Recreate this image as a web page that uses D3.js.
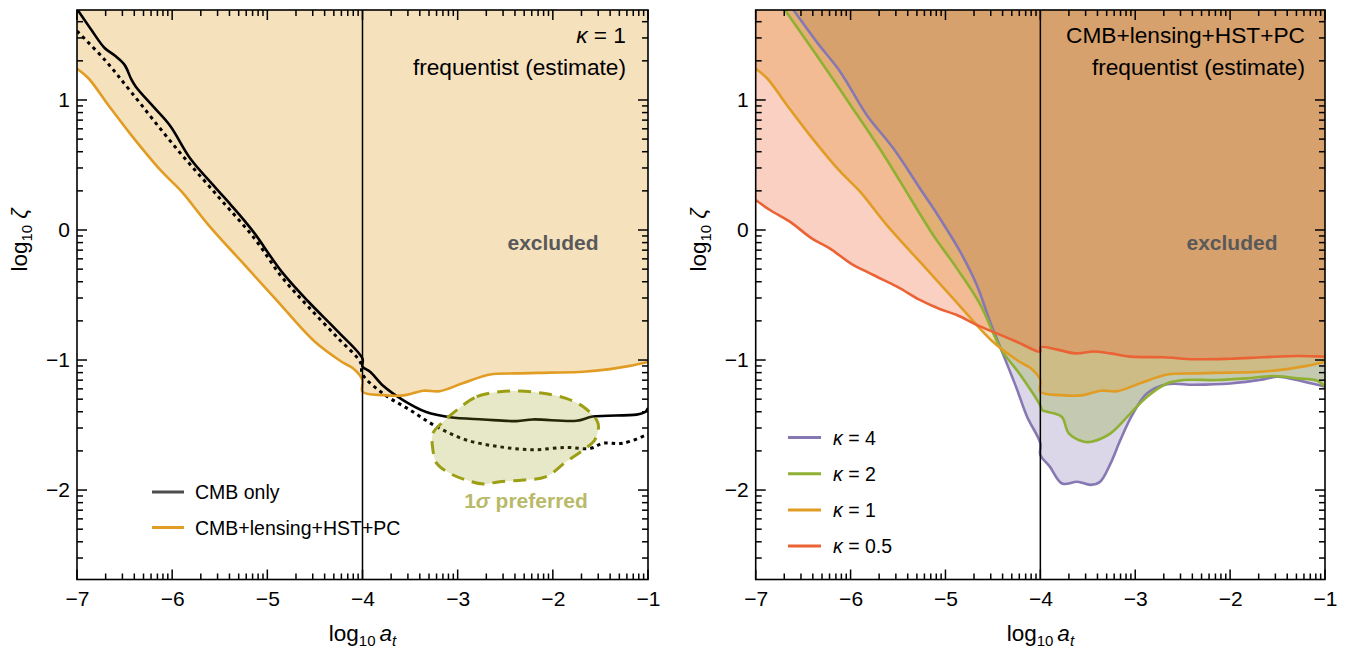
<!DOCTYPE html>
<html>
<head>
<meta charset="utf-8">
<script src="https://cdn.jsdelivr.net/npm/d3@7"></script>
<style>
  body { margin: 0; background: #fff; }
  svg { font-family: "Liberation Sans", Arial, sans-serif; display: block; }
</style>
</head>
<body>
<div id="chart"></div>
<script>
// ---- data: [log10 a_t, log10 zeta] pairs ----
const cmbOnly = [[-7.00, 1.70], [-6.85, 1.54], [-6.71, 1.40], [-6.60, 1.34], [-6.50, 1.27], [-6.43, 1.16],
  [-6.38, 1.10], [-6.20, 0.95], [-6.02, 0.80], [-5.81, 0.55], [-5.55, 0.33], [-5.38, 0.19], [-5.25, 0.08],
  [-5.13, -0.03], [-4.85, -0.32], [-4.57, -0.55], [-4.26, -0.78], [-4.00, -0.99], [-4.00, -1.05],
  [-3.92, -1.09], [-3.78, -1.20], [-3.57, -1.31], [-3.33, -1.40], [-3.08, -1.44], [-2.73, -1.457],
  [-2.38, -1.47], [-2.21, -1.457], [-1.75, -1.467], [-1.58, -1.435], [-1.12, -1.42], [-1.03, -1.40],
  [-1.00, -1.37]];

const cmbOnlyBayes = [[-7.00, 1.53], [-6.71, 1.31], [-6.43, 1.06], [-5.97, 0.64], [-5.52, 0.26], [-5.13, -0.07],
  [-4.85, -0.36], [-4.57, -0.59], [-4.26, -0.83], [-4.02, -1.02], [-4.00, -1.11], [-3.78, -1.26], [-3.50, -1.385],
  [-3.22, -1.513], [-2.91, -1.615], [-2.56, -1.667], [-2.21, -1.69], [-1.86, -1.672], [-1.61, -1.68],
  [-1.47, -1.64], [-1.26, -1.64], [-1.00, -1.57]];

const kappa1 = [[-7.00, 1.24], [-6.88, 1.167], [-6.67, 0.96], [-6.43, 0.73], [-6.11, 0.45], [-5.90, 0.295],
  [-5.62, 0.04], [-5.27, -0.244], [-4.92, -0.525], [-4.50, -0.86], [-4.22, -1.013], [-4.10, -1.064],
  [-4.00, -1.154], [-4.00, -1.244], [-3.78, -1.27], [-3.57, -1.272], [-3.36, -1.236], [-3.19, -1.24],
  [-2.94, -1.177], [-2.66, -1.112], [-2.38, -1.103], [-2.03, -1.097], [-1.68, -1.09], [-1.40, -1.07],
  [-1.19, -1.045], [-1.00, -1.015]];

const kappa05 = [[-7.00, 0.231], [-6.85, 0.154], [-6.64, 0.064], [-6.41, -0.064], [-6.22, -0.141], [-6.00, -0.256],
  [-5.76, -0.346], [-5.51, -0.436], [-5.27, -0.538], [-5.06, -0.608], [-4.88, -0.654], [-4.67, -0.73],
  [-4.46, -0.795], [-4.25, -0.859], [-4.00, -0.936], [-4.00, -0.902], [-3.83, -0.918], [-3.63, -0.949],
  [-3.44, -0.934], [-3.26, -0.949], [-3.05, -0.974], [-2.70, -0.979], [-2.38, -0.994], [-2.00, -0.99],
  [-1.65, -0.979], [-1.29, -0.969], [-1.00, -0.974]];

const kappa2 = [[-6.75, 1.75], [-6.69, 1.69], [-6.36, 1.346], [-6.00, 0.96], [-5.65, 0.577], [-5.37, 0.244],
  [-5.13, -0.038], [-4.88, -0.295], [-4.63, -0.577], [-4.42, -0.91], [-4.21, -1.115], [-4.00, -1.35],
  [-3.98, -1.385], [-3.86, -1.41], [-3.77, -1.44], [-3.70, -1.564], [-3.54, -1.628], [-3.46, -1.628],
  [-3.26, -1.564], [-3.05, -1.41], [-2.875, -1.282], [-2.665, -1.18], [-2.49, -1.154], [-2.14, -1.154],
  [-1.82, -1.141], [-1.54, -1.123], [-1.29, -1.141], [-1.08, -1.159], [-1.00, -1.205]];

const kappa4 = [[-6.66, 1.75], [-6.60, 1.69], [-6.36, 1.449], [-6.11, 1.218], [-5.83, 0.885], [-5.55, 0.628],
  [-5.27, 0.321], [-5.06, 0.09], [-4.845, -0.167], [-4.67, -0.423], [-4.53, -0.705], [-4.39, -0.96],
  [-4.25, -1.218], [-4.14, -1.436], [-4.00, -1.64], [-4.00, -1.73], [-3.90, -1.82], [-3.77, -1.95],
  [-3.61, -1.936], [-3.47, -1.96], [-3.37, -1.936], [-3.26, -1.795], [-3.157, -1.615], [-3.03, -1.42],
  [-2.875, -1.256], [-2.665, -1.187], [-2.38, -1.19], [-2.00, -1.18], [-1.65, -1.149], [-1.50, -1.128],
  [-1.22, -1.167], [-1.00, -1.205]];

const preferred1sigma = [[-3.01, -1.385], [-2.80, -1.282], [-2.56, -1.244], [-2.35, -1.238], [-2.10, -1.256],
  [-1.86, -1.295], [-1.68, -1.359], [-1.54, -1.462], [-1.52, -1.513], [-1.56, -1.615], [-1.68, -1.692],
  [-1.86, -1.782], [-2.07, -1.897], [-2.31, -1.923], [-2.56, -1.936], [-2.73, -1.954], [-2.91, -1.923],
  [-3.08, -1.872], [-3.22, -1.795], [-3.26, -1.692], [-3.26, -1.564], [-3.17, -1.487]];

const xMajorTicks = [-7, -6, -5, -4, -3, -2, -1];
const yMajorTicks = [-2, -1, 0, 1];
const leftLegend = ["CMB only", "CMB+lensing+HST+PC"];
const rightLegend = ["4", "2", "1", "0.5"];

// ---- layout ----
const W = 1346, H = 648;
const TOP = 10, BOTTOM = 579.5;
const X_DOMAIN = [-7, -1], Y_DOMAIN = [-2.688, 1.692];
const colors = {
  orange: "#e19c24", green: "#8fb032", red: "#eb6235", purple: "#8778b3",
  olive: "#9c9e14", oliveText: "#b8ba6a", gray: "#595959"
};

const svg = d3.select("#chart").append("svg").attr("width", W).attr("height", H);

// minor ticks sit at n + log10(k), k = 2..9 (Mathematica-style log subdivisions)
function logMinor(lo, hi) {
  const out = [];
  for (let n = Math.floor(lo) - 1; n <= Math.ceil(hi); n++) {
    for (let k = 2; k <= 9; k++) {
      const v = n + Math.log10(k);
      if (v > lo + 1e-6 && v < hi - 1e-6) out.push(v);
    }
  }
  return out;
}

function makePanel(id, x0, x1) {
  const x = d3.scaleLinear().domain(X_DOMAIN).range([x0, x1]);
  const y = d3.scaleLinear().domain(Y_DOMAIN).range([BOTTOM, TOP]);
  const g = svg.append("g");
  svg.append("clipPath").attr("id", id).append("rect")
    .attr("x", x0).attr("y", TOP).attr("width", x1 - x0).attr("height", BOTTOM - TOP);
  const plot = g.append("g").attr("clip-path", `url(#${id})`);
  return { x, y, g, plot };
}

function line(p) {
  return d3.line().x(d => p.x(d[0])).y(d => p.y(d[1])).curve(d3.curveCatmullRom.alpha(0.5));
}

function fillAbove(p, pts, color, opacity) {
  const top = Y_DOMAIN[1] + 0.3;
  const poly = [...pts, [X_DOMAIN[1] + 0.1, pts[pts.length - 1][1]], [X_DOMAIN[1] + 0.1, top], [pts[0][0] - 0.1, top]];
  p.plot.append("path").attr("d", line(p)(poly) + "Z")
    .attr("fill", color).attr("fill-opacity", opacity).attr("stroke", "none");
}

function stroke(p, pts, color, width, dash) {
  p.plot.append("path").attr("d", line(p)(pts))
    .attr("fill", "none").attr("stroke", color).attr("stroke-width", width)
    .attr("stroke-linejoin", "round")
    .attr("stroke-dasharray", dash || null);
}

function drawAxes(p) {
  const xMinor = logMinor(X_DOMAIN[0], X_DOMAIN[1]);
  const yMinor = logMinor(Y_DOMAIN[0], Y_DOMAIN[1]);
  const [x0, x1] = p.x.range();
  const fmt = d3.format("d");
  const ticks = p.g.append("g").attr("stroke", "#000").attr("stroke-width", 1.5);

  // inward ticks on all four sides
  const xTicks = [...xMajorTicks.map(v => [v, 10]), ...xMinor.map(v => [v, 6])];
  const yTicks = [...yMajorTicks.map(v => [v, 10]), ...yMinor.map(v => [v, 6])];
  ticks.selectAll(".xb").data(xTicks).join("line").attr("class", "xb")
    .attr("x1", d => p.x(d[0])).attr("x2", d => p.x(d[0]))
    .attr("y1", BOTTOM).attr("y2", d => BOTTOM - d[1]);
  ticks.selectAll(".xt").data(xTicks).join("line").attr("class", "xt")
    .attr("x1", d => p.x(d[0])).attr("x2", d => p.x(d[0]))
    .attr("y1", TOP).attr("y2", d => TOP + d[1]);
  ticks.selectAll(".yl").data(yTicks).join("line").attr("class", "yl")
    .attr("y1", d => p.y(d[0])).attr("y2", d => p.y(d[0]))
    .attr("x1", x0).attr("x2", d => x0 + d[1]);
  ticks.selectAll(".yr").data(yTicks).join("line").attr("class", "yr")
    .attr("y1", d => p.y(d[0])).attr("y2", d => p.y(d[0]))
    .attr("x1", x1).attr("x2", d => x1 - d[1]);

  p.g.append("rect").attr("x", x0).attr("y", TOP).attr("width", x1 - x0).attr("height", BOTTOM - TOP)
    .attr("fill", "none").attr("stroke", "#000").attr("stroke-width", 1.6);

  // tick labels via d3 axes (labels only, tick lines drawn above)
  const bottom = p.g.append("g").attr("transform", `translate(0,${BOTTOM})`)
    .call(d3.axisBottom(p.x).tickValues(xMajorTicks).tickSize(0).tickPadding(12).tickFormat(fmt));
  const left = p.g.append("g").attr("transform", `translate(${x0},0)`)
    .call(d3.axisLeft(p.y).tickValues(yMajorTicks).tickSize(0).tickPadding(7).tickFormat(fmt));
  [bottom, left].forEach(a => {
    a.select(".domain").remove();
    a.selectAll("line").remove();
    a.attr("font-size", 21).attr("font-family", null);
    a.selectAll("text").attr("fill", "#000");
  });
}

function axisTitles(p) {
  const [x0, x1] = p.x.range();
  const xt = p.g.append("text").attr("x", (x0 + x1) / 2).attr("y", 641)
    .attr("text-anchor", "middle").attr("font-size", 22.5);
  xt.append("tspan").text("log");
  xt.append("tspan").attr("font-size", 15).attr("dy", 5).text("10");
  xt.append("tspan").attr("dy", -5).attr("dx", 4).attr("font-style", "italic").text("a");
  xt.append("tspan").attr("font-size", 15).attr("dy", 5).attr("font-style", "italic").text("t");

  const yt = p.g.append("text").attr("transform", `translate(${x0 - 50},240) rotate(-90)`)
    .attr("text-anchor", "middle").attr("font-size", 22.5);
  yt.append("tspan").text("log");
  yt.append("tspan").attr("font-size", 15).attr("dy", 5).text("10");
  yt.append("tspan").attr("dy", -5).attr("dx", 6).attr("font-style", "italic").text("ζ");
}

function vline(p) {
  p.g.append("line").attr("x1", p.x(-4)).attr("x2", p.x(-4)).attr("y1", TOP).attr("y2", BOTTOM)
    .attr("stroke", "#000").attr("stroke-width", 1.5);
}

// ---- left panel ----
const L = makePanel("clipL", 77, 648);
fillAbove(L, kappa1, colors.orange, 0.3);
stroke(L, cmbOnly, "#000", 2.6);
stroke(L, cmbOnlyBayes, "#000", 3, "3.5,4");
stroke(L, kappa1, colors.orange, 2.6);
L.plot.append("path").attr("d", d3.line().x(d => L.x(d[0])).y(d => L.y(d[1])).curve(d3.curveCatmullRomClosed)(preferred1sigma))
  .attr("fill", colors.olive).attr("fill-opacity", 0.24)
  .attr("stroke", colors.olive).attr("stroke-width", 3).attr("stroke-dasharray", "13,8");
vline(L);
drawAxes(L);
axisTitles(L);

L.g.append("text").attr("x", 626).attr("y", 43).attr("text-anchor", "end").attr("font-size", 22.7)
  .call(t => { t.append("tspan").attr("font-style", "italic").text("κ"); t.append("tspan").text(" = 1"); });
L.g.append("text").attr("x", 626).attr("y", 75).attr("text-anchor", "end").attr("font-size", 22.7)
  .text("frequentist (estimate)");
L.g.append("text").attr("x", 553).attr("y", 250).attr("text-anchor", "middle").attr("font-size", 21)
  .attr("font-weight", "bold").attr("fill", colors.gray).text("excluded");
L.g.append("text").attr("x", 526).attr("y", 508).attr("text-anchor", "middle").attr("font-size", 21)
  .attr("font-weight", "bold").attr("fill", colors.oliveText)
  .call(t => {
    t.append("tspan").text("1");
    t.append("tspan").attr("font-style", "italic").text("σ");
    t.append("tspan").text(" preferred");
  });

const leftLegendColors = ["#4d4d4d", colors.orange];
leftLegend.forEach((label, i) => {
  const yy = 492 + i * 35.5;
  L.g.append("line").attr("x1", 152).attr("x2", 184).attr("y1", yy).attr("y2", yy)
    .attr("stroke", leftLegendColors[i]).attr("stroke-width", 3);
  L.g.append("text").attr("x", 195).attr("y", yy + 7).attr("font-size", 19.5).text(label);
});

// ---- right panel ----
const R = makePanel("clipR", 755.7, 1325);
const rightSeries = [kappa4, kappa2, kappa1, kappa05];
const rightColors = [colors.purple, colors.green, colors.orange, colors.red];
rightSeries.forEach((s, i) => fillAbove(R, s, rightColors[i], 0.3));
rightSeries.forEach((s, i) => stroke(R, s, rightColors[i], 2.6));
vline(R);
drawAxes(R);
axisTitles(R);

R.g.append("text").attr("x", 1305).attr("y", 43).attr("text-anchor", "end").attr("font-size", 22.7)
  .text("CMB+lensing+HST+PC");
R.g.append("text").attr("x", 1305).attr("y", 75).attr("text-anchor", "end").attr("font-size", 22.7)
  .text("frequentist (estimate)");
R.g.append("text").attr("x", 1232).attr("y", 250).attr("text-anchor", "middle").attr("font-size", 21)
  .attr("font-weight", "bold").attr("fill", colors.gray).text("excluded");

rightLegend.forEach((k, i) => {
  const yy = 437.5 + i * 36.2;
  R.g.append("line").attr("x1", 788).attr("x2", 821).attr("y1", yy).attr("y2", yy)
    .attr("stroke", rightColors[i]).attr("stroke-width", 3);
  R.g.append("text").attr("x", 833).attr("y", yy + 7).attr("font-size", 19.5)
    .call(t => { t.append("tspan").attr("font-style", "italic").text("κ"); t.append("tspan").text(" = " + k); });
});
</script>
</body>
</html>
